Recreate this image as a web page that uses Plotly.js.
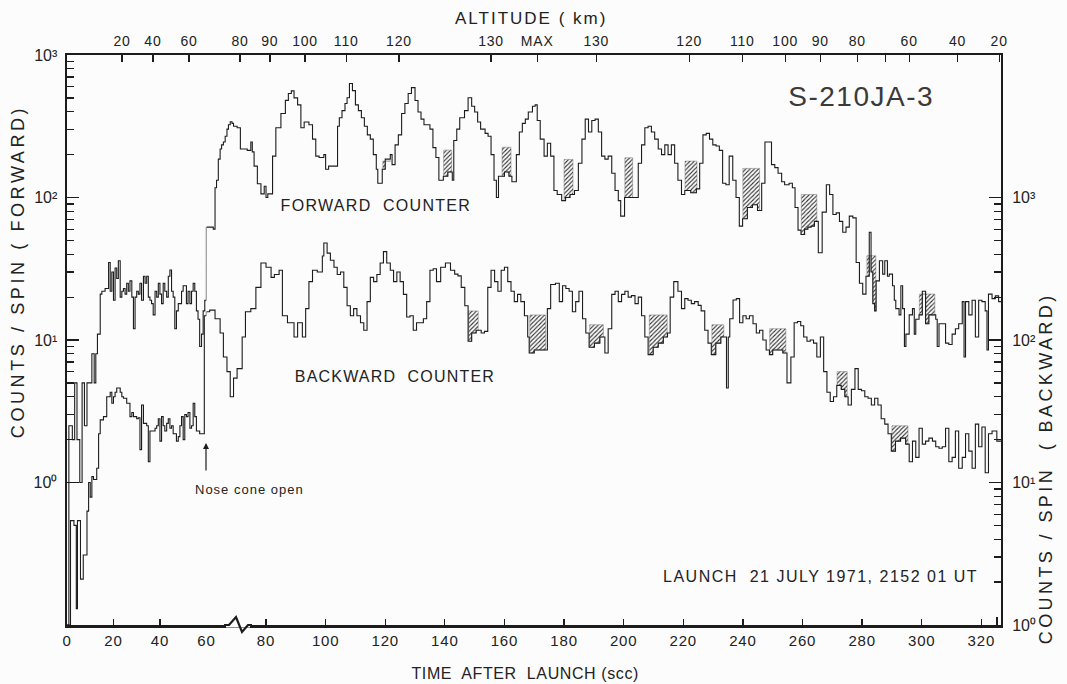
<!DOCTYPE html>
<html><head><meta charset="utf-8">
<script src="https://cdn.plot.ly/plotly-3.0.1.min.js"></script>
<style>html,body{margin:0;padding:0;background:#fcfcfc}</style>
</head><body><div id="chart" style="width:1067px;height:684px"></div>
<script>
// ---- data (time after launch in s, counts/spin) ----
const fwdT = [0,0.8,2.3,3.3,4.3,5.5,6.5,7.5,8.6,10.7,11.7,12.4,13.1,14.3,15,16.4,17.9,18.6,19.3,20,20.7,21.4,22.1,22.9,23.6,24.3,25,25.7,26.4,27.1,27.9,28.6,29.3,30,30.7,31.4,32.1,32.9,33.6,34.3,35,35.7,36.4,37.1,37.9,38.6,39.3,40,40.7,41.4,42.1,42.9,43.6,44.3,45,45.7,46.4,47.1,47.9,48.6,49.3,50,50.7,51.4,52.1,52.9,53.6,54.3,55,55.7,56.4,57.1,57.9,58.6,59.3,
60,62.3,62.9,63.4,64,64.6,65.1,65.7,66.3,66.9,67.4,68,68.6,69.1,70.3,71.4,73.7,74.9,75.4,76,77.1,78.3,79.4,80,80.6,82.2,83.3,85,86.5,87.5,88.5,89.4,90.6,91.7,92.8,94.4,95.6,96.7,97.8,99.4,100,101,103,104,104.6,105.5,106.5,107.2,108,109,110,111,112,113,114,115,116,117,117.5,119,120,121.7,122.3,123.3,124.4,125.5,126.6,127.7,128.8,130,131,132,133,134,135,136,137,138,139.5,141,142.5,143,144,145,146.6,147.8,149,150,151,152,153.5,154.5,155.5,156.5,157.3,158,159,160,161.5,162.5,164,165,166,167,168,169.4,170.3,171,172,173.3,174.4,175.5,176.6,177.7,179.2,180.5,182,183.5,184.8,186,187.1,188.2,189.3,190.4,191.5,192.6,193.7,194.8,196,197.1,198.2,199,200.3,201.7,203.4,204.9,206,207.1,208.2,209.3,210.4,211.6,212.7,213.8,214.9,216,217.1,218.2,219.4,220.5,222.5,224.4,225.5,226.6,227.7,228.8,229.9,231,232.1,233.2,234.3,235.4,236.6,237.7,238.8,239.9,241.5,243.2,244.9,246.3,247.4,248.8,249.6,250.7,251.8,253,254,255.5,256.6,257.5,258.5,259.5,260.7,261.8,262.9,264,265.3,266.6,268,269.1,270.2,271.3,272.4,273.5,274.6,275.7,276.9,278,279.1,280.2,281.3,282.4,283,283.6,284.2,284.7,285.8,286.9,287.6,288.5,289.1,290.2,290.8,291.3,292.4,293,293.6,294.2,294.7,295.8,296.9,297.5,298,299.1,300.2,301.3,302.4,303.6,304.7,305.2,305.8,306.9,308,309.1,310.2,311.3,312.4,313.6,314.2,314.7,315.8,316.9,318,319.1,320.2,321.3,321.9,322.4,323.6,324.7,325.8,326.6];
const fwdV = [0.1,2.5,2.0,5,2.0,1.0,5,2.5,5,8,5,8,11,21,22,23,35,22,30,19,32,27,36,20,22,23,21,25,22,26,20,12,20,22,21,25,19,28,25,28,20,19,18,15,22,20,25,21,18,25,22,20,28,31,22,20,12,16,18,18,22,24,24,18,22,18,22,25,22,16,14,9,11,16,19,
62,60,117,132,186,219,234,245,269,302,324,340,331,316,309,219,214,245,209,166,125,106,120,100,106,195,309,389,480,537,560,500,447,309,339,324,257,195,191,200,158,166,166,316,363,407,457,501,631,562,447,407,363,316,275,257,200,158,126,158,186,200,170,234,275,389,457,537,590,479,398,355,324,324,302,224,191,132,141,151,132,251,302,363,407,501,437,398,339,302,282,269,200,132,100,141,141,151,141,129,200,288,331,355,398,437,447,347,257,195,240,195,112,105,95,100,105,112,174,257,355,288,347,355,288,195,186,195,148,112,95,74,100,100,100,174,234,309,316,288,257,219,200,234,200,234,174,132,105,112,108,115,174,275,282,257,234,230,214,126,123,195,132,100,63,71,85,89,81,126,245,245,170,162,148,129,123,126,117,85,59,55,60,62,63,68,41,79,123,105,76,78,68,57,62,74,72,35,25,21,28,57,30,18,16,26,36,29,36,28,29,24,19,16.6,15,24,16.6,9,11,15,16.6,11,14,15,22,13,15,15,14,9,13,13,9.5,9.3,11,12,13,18.6,7.6,18.6,15,19,10.5,19,18.6,16,8.5,21,19.5,20.4,18.6,18.6];

const bwdT = [0,1.5,3,4,4.5,5.8,7,8.6,9.3,10,10.7,11.4,12.8,13.6,14.3,15.7,17.1,18.6,19.3,20,20.7,21.4,22.9,23.6,24.3,25.7,27.1,27.9,28.6,30,30.7,31.4,32.1,32.9,34.3,35,35.7,37.1,37.9,38.6,39.3,40,40.7,41.4,42.1,42.9,43.6,44.3,45,45.7,47.1,47.9,48.6,49.3,50,50.7,51.4,52.1,52.9,53.6,54.3,55,55.7,57.1,58.6,59.1,
60,61.1,62.9,64.6,65.7,66.9,68,69.1,70.3,72,73.1,74.9,76.6,78.3,80,81.7,82.8,84.4,85.5,87.2,89.4,90.6,92.2,93.3,94.4,95.6,97.2,98.9,99.4,100.5,101.6,102.8,103.9,105,106.1,107.2,108.3,109.4,110.5,111.7,112.8,113.9,115,116.1,117.2,118.3,119.4,120.5,121.7,122.8,123.9,125,126.1,127.2,128.3,129.4,130.5,131.7,132.8,133.9,135,136.1,137.2,138.6,140.2,141.9,143.3,144.4,145.5,146.7,147.8,149,150.5,152.2,153.3,154.4,155.5,156.7,157.8,158.9,160,161.1,162.2,163.3,164.4,165.5,166.7,167.8,168.3,170,174.4,175.5,177.1,178.4,179.5,180.6,181.7,182.8,183.9,185,186.2,187.3,188.4,190.2,192,193.7,194.8,196,197.1,198.2,199.3,200.4,201.5,202.6,203.8,204.9,206,207.1,208.2,209.9,211.6,213.3,214.7,215.6,216.8,218.2,219.4,220.5,221.6,222.7,223.8,225,226,227.2,228.3,229.4,230.9,232.6,233.9,234.5,235.1,235.6,236.7,237.8,238.9,240,241.1,242.2,243.4,244.5,245.6,246.7,247.8,248.9,250,251.7,253.4,254.8,256.1,257.2,258.3,259.4,260.4,261.5,262.6,263.7,264.8,266,267.1,268.2,269.3,270.4,271.5,273,274.2,275.3,276.4,277.6,278.7,279.8,280.9,282,283.1,284.2,285.3,286.4,287.6,288.7,289.8,291.2,292.9,294.6,295.8,296.9,298,299.1,300.2,301.3,302.4,303.6,304.7,305.8,306.9,308,309.1,310.2,311.3,312.4,313.6,314.7,315.8,316.9,318,319.1,320.2,321.3,322.4,323.6,325.2,326.6];
const bwdV = [1,5.4,5,1.3,5.4,2.1,3.1,6.3,10,7.9,11,10.5,12.6,22,27.5,29,40,43,36,40,43,46,43,40,39,36,29,31,29,28,28.5,17,35,26,25,14,23,23,24,25,28,19.5,29,25,23,26,28,24,25,22,19.5,21,25,29,20,30,29,31,24,25,36,29,23,22,22,148,
158,162,141,112,76,60,40,54,63,105,158,166,234,347,324,275,288,309,148,132,105,132,105,166,257,309,300,389,479,407,363,324,288,300,234,174,148,166,148,132,117,186,275,257,288,347,417,347,309,257,300,257,209,145,148,117,132,132,141,186,309,316,257,324,347,309,290,282,234,174,98,112,117,112,115,234,309,257,220,309,324,257,220,186,209,186,148,105,81,85,166,245,250,186,240,230,220,158,186,220,141,112,89,95,105,81,120,209,220,186,209,220,200,205,180,200,148,105,79,89,95,105,112,200,257,220,166,195,190,180,186,175,160,117,95,79,95,105,105,46,105,141,191,195,132,148,141,148,130,112,117,100,85,79,85,85,81,50,76,132,135,126,105,98,100,95,76,105,60,43,37,40,48,45,40,35,45,63,45,44,40,39,35,39,35,28,25.7,22,16.6,19.5,20.5,18.6,14,19.5,15,24,18.6,19.5,20.5,19.5,17.8,17.4,17.8,24,14,15,23,12.6,15,22,16.6,12.6,25.7,17.8,24.5,11.7,22,23,19.5,19.5];

// hatched intervals (start s, end s, upper count)
const hatchFwdStart = [119.2,139.6,159.2,180,200.4,220.6,240,259.6,281.6,299.2];
const hatchFwdEnd   = [121.9,142.3,162.2,183,203,224.6,245.6,264.8,284.6,304.4];
const hatchFwdTop   = [180,215,225,185,190,180,160,105,39,21];
const hatchBwdStart = [148,168.5,188.6,208.6,229.6,249,271.6,290];
const hatchBwdEnd   = [151.2,173.8,193.2,214.6,233.6,254.4,275,295.4];
const hatchBwdTop   = [160,150,128,150,128,120,60,25];

// axis ticks
const timeTicksLeft = [0,20,40,60];
const timeTicksRight = [80,100,120,140,160,180,200,220,240,260,280,300,320];
const timeTicksExtra = [325.3];
const altTicksLeft = [23.7,37,52.5];
const altLblLeft = ['20','40','60'];
const altTicksRight = [71.3,81.3,93.1,106.9,124.6,155.5,171,190.8,222,239.8,254.2,266,278.4,295.8,312,326];
const altLblRight = ['80','90','100','110','120','130','MAX','130','120','110','100','90','80','60','40','20'];
const altTicksExtra = [287.8];
const decadeVals = [1,10,100,1000];
const decadeLbl = ['10\u2070','10\u00b9','10\u00b2','10\u00b3'];

// ---- construction ----
const SPLIT = 60, T_END = 326.6;
const INK = '#1c1c1c';
function valueAt(T,V,t){let v=V[0];for(let i=0;i<T.length;i++){if(T[i]<=t)v=V[i];else break;}return v;}
function segment(T,V,lo,hi){
  const x=[lo],y=[valueAt(T,V,lo)];
  for(let i=0;i<T.length;i++){if(T[i]>lo&&T[i]<hi){x.push(T[i]);y.push(V[i]);}}
  x.push(hi);y.push(valueAt(T,V,hi));return {x,y};
}
function hatchPoly(T,V,t0,t1,top){
  const x=[t0],y=[Math.min(valueAt(T,V,t0),top)];
  let cur=valueAt(T,V,t0);
  for(let i=0;i<T.length;i++){if(T[i]>t0&&T[i]<t1){x.push(T[i]);y.push(Math.min(cur,top));cur=V[i];x.push(T[i]);y.push(Math.min(cur,top));}}
  x.push(t1);y.push(Math.min(cur,top));
  x.push(t1);y.push(top);x.push(t0);y.push(top);x.push(t0);y.push(Math.min(valueAt(T,V,t0),top));
  return {x,y};
}
const lineStyle={color:INK,width:1.1,shape:'hv'};
const traces=[];
function addHatches(T,V,S,E,Top,ya){
  for(let k=0;k<S.length;k++){
    const p=hatchPoly(T,V,S[k],E[k],Top[k]);
    traces.push({x:p.x,y:p.y,xaxis:'x2',yaxis:ya,mode:'lines',fill:'toself',
      line:{color:'#777',width:0.5,shape:'linear'},fillcolor:'rgba(255,255,255,0)',
      fillpattern:{shape:'/',fgcolor:'#2a2a2a',bgcolor:'rgba(255,255,255,0)',size:3,solidity:0.35},hoverinfo:'skip'});
  }
}
addHatches(fwdT,fwdV,hatchFwdStart,hatchFwdEnd,hatchFwdTop,'y');
addHatches(bwdT,bwdV,hatchBwdStart,hatchBwdEnd,hatchBwdTop,'y2');
[[fwdT,fwdV,'y'],[bwdT,bwdV,'y2']].forEach(([T,V,ya])=>{
  const L=segment(T,V,0,SPLIT),R=segment(T,V,SPLIT,T_END);
  traces.push({x:L.x,y:L.y,xaxis:'x',yaxis:ya,mode:'lines',line:lineStyle,hoverinfo:'skip'});
  traces.push({x:R.x,y:R.y,xaxis:'x2',yaxis:ya,mode:'lines',line:lineStyle,hoverinfo:'skip'});
});
// invisible anchors so the overlay tick axes are drawn
[['x3','y',30,1],['x4','y',200,1],['x5','y',200,1],['x6','y',200,1],['x','y3',30,1],['x2','y4',200,10]].forEach(([xa,ya,xv,yv])=>{
  traces.push({x:[xv],y:[yv],xaxis:xa,yaxis:ya,mode:'markers',marker:{opacity:0,size:1},hoverinfo:'skip'});
});

// ---- layout ----
const ML=67, MR=66, MT=55, MB=59, W=1067, H=684;
const PW=W-ML-MR, PH=H-MT-MB;
const px=x=>(x-ML)/PW, py=y=>(H-MB-y)/PH;
const dSplit = px(206.4);
const minorVals=[];[1,10,100].forEach(d=>{for(let k=2;k<=9;k++)minorVals.push(k*d);});
const FONT='Liberation Sans, Arial, sans-serif';
const tickBase={showgrid:false,zeroline:false,ticks:'inside',tickcolor:INK,tickwidth:1.3,tickfont:{family:FONT,size:15,color:'#222'}};
const ann=(x,y,text,size,extra)=>Object.assign({x:px(x),y:py(y),xref:'paper',yref:'paper',xanchor:'center',yanchor:'middle',text:text,showarrow:false,font:{family:FONT,size:size,color:'#222'}},extra||{});
const layout={
  width:W,height:H,margin:{l:ML,r:MR,t:MT,b:MB},
  paper_bgcolor:'#fcfcfc',plot_bgcolor:'rgba(0,0,0,0)',showlegend:false,
  font:{family:FONT,color:'#222',size:14},
  xaxis:Object.assign({},tickBase,{domain:[0,dSplit],range:[0,SPLIT],tickmode:'array',tickvals:timeTicksLeft,ticktext:timeTicksLeft.map(String),ticklen:6,showline:true,linewidth:2.5,linecolor:INK,mirror:true,anchor:'y'}),
  xaxis2:Object.assign({},tickBase,{domain:[dSplit,1],range:[SPLIT,T_END],tickmode:'array',tickvals:timeTicksRight,ticktext:timeTicksRight.map(String),ticklen:6,showline:true,linewidth:2.5,linecolor:INK,mirror:true,anchor:'y'}),
  xaxis3:Object.assign({},tickBase,{overlaying:'x',side:'top',anchor:'y',range:[0,SPLIT],tickmode:'array',tickvals:altTicksLeft,ticktext:altLblLeft,ticklen:7,ticklabelstandoff:5,showline:false,tickfont:{family:FONT,size:14,color:'#222'}}),
  xaxis4:Object.assign({},tickBase,{overlaying:'x2',side:'top',anchor:'y',range:[SPLIT,T_END],tickmode:'array',tickvals:altTicksRight,ticktext:altLblRight,ticklen:7,ticklabelstandoff:5,showline:false,tickfont:{family:FONT,size:14,color:'#222'}}),
  xaxis5:Object.assign({},tickBase,{overlaying:'x2',side:'top',anchor:'y',range:[SPLIT,T_END],tickmode:'array',tickvals:altTicksExtra,showticklabels:false,ticklen:7,showline:false}),
  xaxis6:Object.assign({},tickBase,{overlaying:'x2',side:'bottom',anchor:'y',range:[SPLIT,T_END],tickmode:'array',tickvals:timeTicksExtra,showticklabels:false,ticklen:8,showline:false}),
  yaxis:Object.assign({},tickBase,{type:'log',range:[-1,3],anchor:'x',side:'left',tickmode:'array',tickvals:decadeVals,ticktext:decadeLbl,ticklen:12,showline:true,linewidth:2.5,linecolor:INK,ticklabelstandoff:4,tickfont:{family:FONT,size:16,color:'#222'}}),
  yaxis2:Object.assign({},tickBase,{type:'log',range:[0,4],overlaying:'y',anchor:'x2',side:'right',tickmode:'array',tickvals:decadeVals,ticktext:decadeLbl,ticklen:12,showline:true,linewidth:2,linecolor:INK,ticklabelstandoff:6,tickfont:{family:FONT,size:16,color:'#222'}}),
  yaxis3:Object.assign({},tickBase,{type:'log',range:[-1,3],overlaying:'y',anchor:'x',side:'left',tickmode:'array',tickvals:minorVals,showticklabels:false,ticklen:7,tickwidth:1.2,showline:false}),
  yaxis4:Object.assign({},tickBase,{type:'log',range:[0,4],overlaying:'y',anchor:'x2',side:'right',tickmode:'array',tickvals:minorVals,showticklabels:false,ticklen:7,tickwidth:1.2,showline:false}),
  annotations:[
    ann(861,96,'S-210JA-3',28,{font:{family:FONT,size:28,color:'#3a3a3a'}}),
    ann(376,205,'FORWARD  COUNTER',16),
    ann(395,376,'BACKWARD  COUNTER',16),
    ann(249,489,'Nose cone open',13),
    {x:px(206),y:py(443),xref:'paper',yref:'paper',text:'',showarrow:true,ax:0,ay:29,arrowhead:2,arrowsize:1,arrowwidth:1.2,arrowcolor:INK},
    ann(820,576,'LAUNCH  21 JULY 1971, 2152 01 UT',16),
    ann(531,18,'ALTITUDE ( km)',17),
    ann(525,673,'TIME  AFTER  LAUNCH (scc)',16),
    ann(18,272,'COUNTS / SPIN ( FORWARD)',18,{textangle:-90}),
    ann(1046,469,'COUNTS / SPIN  ( BACKWARD)',18,{textangle:-90})
  ],
  shapes:[
    {type:'line',xref:'paper',yref:'paper',x0:px(226),x1:px(250),y0:py(625),y1:py(625),line:{color:'#fcfcfc',width:5}},
    {type:'path',xref:'paper',yref:'paper',path:`M ${px(224)},${py(625)} L ${px(229)},${py(625)} L ${px(236)},${py(617)} L ${px(242)},${py(632)} L ${px(248)},${py(625)} L ${px(252)},${py(625)}`,line:{color:INK,width:2.2}}
  ]
};
const spacing=[1.5,1.3,1.2,1,0,1.5,2,0.6,3.6,3.4];
Plotly.newPlot('chart',traces,layout,{staticPlot:true,displayModeBar:false}).then(()=>{
  document.querySelectorAll('#chart .annotation').forEach(g=>{
    const i=+g.getAttribute('data-index');const t=g.querySelector('.annotation-text');
    if(t&&spacing[i])t.style.letterSpacing=spacing[i]+'px';
  });
  document.querySelectorAll('#chart .xtick text, #chart .x2tick text, #chart .x3tick text, #chart .x4tick text').forEach(t=>{t.style.letterSpacing='0.8px';});
});
</script></body></html>
